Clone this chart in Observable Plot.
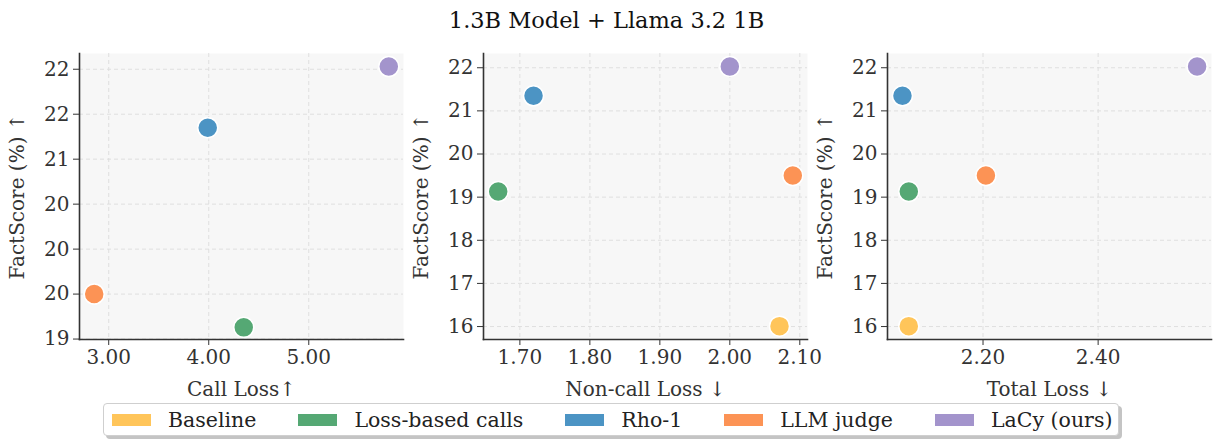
<!DOCTYPE html>
<html><head><meta charset="utf-8">
<script src="https://cdn.jsdelivr.net/npm/d3@7"></script>
<script src="https://cdn.jsdelivr.net/npm/@observablehq/plot@0.6"></script>
<style>
body{margin:0;background:#fff;}
#wrap{position:relative;width:1213px;height:439px;overflow:hidden;font-family:"DejaVu Serif",serif;background:#fff;}
#title{position:absolute;left:0;top:2px;width:1213px;text-align:center;font-size:22.5px;line-height:36px;color:#111;}
.panel{position:absolute;top:40px;}
#legend{position:absolute;left:103px;top:403px;width:1016px;height:33px;border:1px solid #cfcfcf;border-radius:4px;background:#fff;box-shadow:3px 3px 0 #c4c4c4;display:flex;align-items:center;padding-left:8px;box-sizing:border-box;font-size:20.5px;color:#222;}
.item{display:flex;align-items:center;margin-right:42px;}
.item:last-child{margin-right:0;}
.sw{width:39px;height:12px;margin-right:17px;}
</style></head><body>
<div id="wrap">
  <div id="title">1.3B Model + Llama 3.2 1B</div>
  <div id="p1" class="panel" style="left:0px"></div>
  <div id="p2" class="panel" style="left:404px"></div>
  <div id="p3" class="panel" style="left:808px"></div>
  <div id="legend"></div>
</div>
<script>
const methods = ["Baseline", "Loss-based calls", "Rho-1", "LLM judge", "LaCy (ours)"];
const colors = ["#FFC55A", "#55A874", "#4C94C4", "#FC9355", "#A394CC"];
const factScore = [16.01, 19.13, 21.35, 19.50, 22.03];
const callLoss = [null, 4.35, 3.99, 2.855, 5.80];
const nonCallLoss = [2.071, 1.669, 1.7195, 2.09, 2.00];
const totalLoss = [2.071, 2.071, 2.06, 2.205, 2.572];

const xTicks1 = [3, 4, 5];
const xTicks2 = [1.7, 1.8, 1.9, 2.0, 2.1];
const xTicks3 = [2.2, 2.4];
const yTicks1 = [19, 19.5, 20, 20.5, 21, 21.5, 22];
const yLabels1 = ["19", "20", "20", "20", "21", "22", "22"];
const yTicks23 = [16, 17, 18, 19, 20, 21, 22];
const xLabels = ["Call Loss\u2191", "Non-call Loss \u2193", "Total Loss \u2193"];
const yLabel = "FactScore (%) \u2191";

const rows = methods.map((m, i) => ({
  method: m, fs: factScore[i], call: callLoss[i], noncall: nonCallLoss[i], total: totalLoss[i]
}));

function panel(xKey, xDomain, xTicks, yDomain, yTicks, yFmt, xLabel) {
  const data = rows.filter(d => d[xKey] != null);
  const gridStyle = {stroke: "#dcdcdc", strokeOpacity: 1, strokeWidth: 0.9, strokeDasharray: "4,3"};
  return Plot.plot({
    width: 405, height: 360,
    marginLeft: 79, marginRight: 2, marginTop: 13, marginBottom: 61,
    style: {fontFamily: "DejaVu Serif", fontSize: "20px", background: "transparent", color: "#333", overflow: "visible"},
    x: {domain: xDomain},
    y: {domain: yDomain},
    color: {domain: methods, range: colors},
    marks: [
      Plot.frame({fill: "#f7f7f7", stroke: null}),
      Plot.gridX(xTicks, gridStyle),
      Plot.gridY(yTicks, gridStyle),
      Plot.axisX(xTicks, {tickFormat: d3.format(".2f"), tickSize: 6, tickPadding: 4, stroke: "#333", color: "#333",
        label: xLabel, labelAnchor: "center", labelOffset: 56, labelArrow: "none"}),
      Plot.axisY(yTicks, {tickFormat: yFmt, tickSize: 6, tickPadding: 4, stroke: "#333", color: "#333",
        label: yLabel, labelAnchor: "center", labelOffset: 70, labelArrow: "none"}),
      Plot.frame({anchor: "left", stroke: "#333", strokeWidth: 1.6}),
      Plot.frame({anchor: "bottom", stroke: "#333", strokeWidth: 1.6}),
      Plot.dot(data, {x: xKey, y: "fs", fill: "method", r: 10, stroke: "white", strokeWidth: 1.5})
    ]
  });
}

document.getElementById("p1").append(panel("call", [2.708, 5.947], xTicks1, [18.995, 22.175], yTicks1,
  d => yLabels1[yTicks1.indexOf(d)], xLabels[0]));
document.getElementById("p2").append(panel("noncall", [1.648, 2.111], xTicks2, [15.70, 22.33], yTicks23,
  d3.format("d"), xLabels[1]));
document.getElementById("p3").append(panel("total", [2.034, 2.597], xTicks3, [15.70, 22.33], yTicks23,
  d3.format("d"), xLabels[2]));

const legend = document.getElementById("legend");
methods.forEach((m, i) => {
  const it = document.createElement("div");
  it.className = "item";
  const sw = document.createElement("div");
  sw.className = "sw";
  sw.style.background = colors[i];
  const tx = document.createElement("span");
  tx.textContent = m;
  it.append(sw, tx);
  legend.append(it);
});
</script>
</body></html>
